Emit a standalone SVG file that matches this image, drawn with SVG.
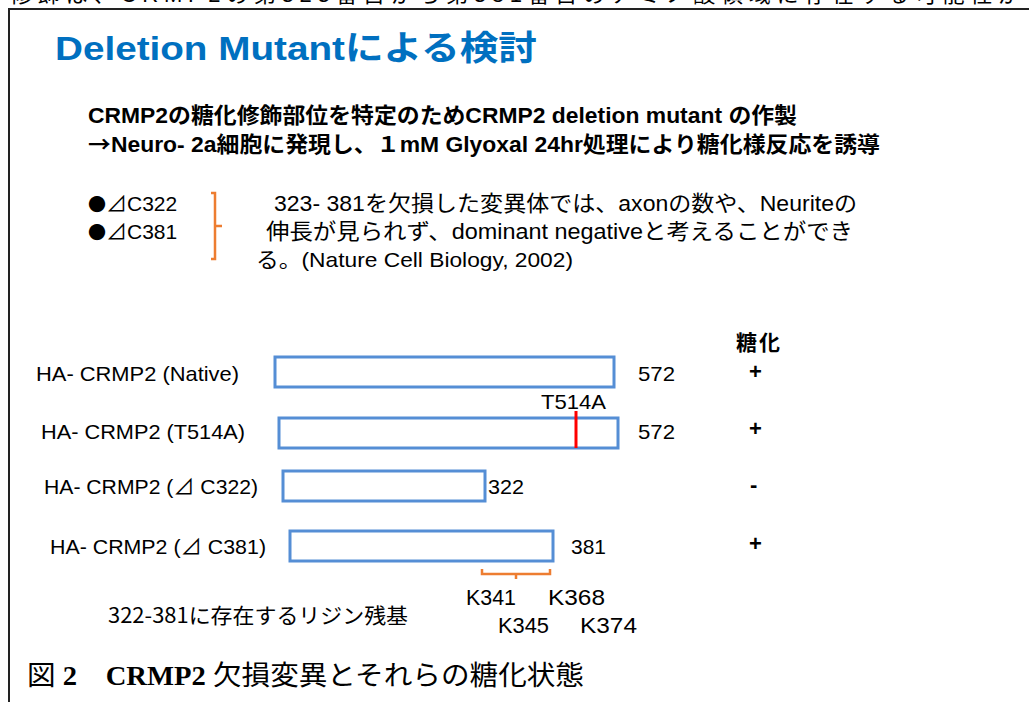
<svg xmlns="http://www.w3.org/2000/svg" width="1029" height="702" viewBox="0 0 1029 702">
<style>
.t{font-family:"Liberation Sans","Noto Sans CJK JP",sans-serif;fill:#000}
.b{font-weight:bold}
.j{font-family:"Noto Sans CJK JP",sans-serif}
.title{font-family:"Liberation Sans","Noto Sans CJK JP",sans-serif;font-weight:bold;fill:#0070C0;font-size:34px}
.cap{font-family:"Liberation Serif","Noto Sans CJK JP",serif;fill:#000;font-size:27px}
.box{fill:#fff;stroke:#558ED5;stroke-width:3}
.br{fill:none;stroke:#ED7D31;stroke-width:2.5}
.frame{fill:none;stroke:#222;stroke-width:2}
</style>
<rect width="1029" height="702" fill="#fff"/>
<text class="t" x="10" y="2" font-size="22" textLength="1010" lengthAdjust="spacing">修飾は、CRMP2の第323番目から第381番目のアミノ酸領域に存在する可能性が</text>
<path class="frame" d="M9,702 V9 H1029"/>
<text class="title" x="55" y="60" textLength="482" lengthAdjust="spacingAndGlyphs">Deletion Mutantによる検討</text>
<g id="intro">
<text class="t b" x="88" y="123" font-size="21.5" textLength="709" lengthAdjust="spacingAndGlyphs">CRMP2の糖化修飾部位を特定のためCRMP2  deletion mutant の作製</text>
<text class="t b" x="88" y="152" font-size="21.5" textLength="792" lengthAdjust="spacingAndGlyphs"><tspan class="j">→</tspan>Neuro- 2a細胞に発現し、１mM Glyoxal 24hr処理により糖化様反応を誘導</text>
</g>
<g id="bullets">
<text class="t" x="88" y="211" font-size="21"><tspan class="j" font-size="18">●</tspan><tspan class="j">⊿</tspan>C322</text>
<text class="t" x="88" y="239" font-size="21"><tspan class="j" font-size="18">●</tspan><tspan class="j">⊿</tspan>C381</text>
</g>
<g id="connectors">
<path class="br" d="M211,193 H215 V259 H211 M215,226 H222"/>
<path class="br" d="M482,569 V574 H550 V569 M516,574 V579"/>
</g>
<g id="note">
<text class="t" x="274" y="211" font-size="21.5" textLength="583" lengthAdjust="spacingAndGlyphs">323- 381を欠損した変異体では、axonの数や、Neuriteの</text>
<text class="t" x="266" y="239" font-size="21.5" textLength="587" lengthAdjust="spacingAndGlyphs">伸長が見られず、dominant negativeと考えることができ</text>
<text class="t" x="256" y="267" font-size="21" textLength="317" lengthAdjust="spacingAndGlyphs">る。(Nature Cell Biology, 2002)</text>
</g>
<text class="t b" x="736" y="350" font-size="21" textLength="44" lengthAdjust="spacing">糖化</text>
<g id="row-native">
<text class="t" x="36" y="381" font-size="21" textLength="203" lengthAdjust="spacingAndGlyphs">HA- CRMP2 (Native)</text>
<rect class="box" x="275" y="357" width="339" height="30"/>
<text class="t" x="638" y="381" font-size="21" textLength="37" lengthAdjust="spacingAndGlyphs">572</text>
<text class="t b" x="749" y="379" font-size="22">+</text>
</g>
<g id="row-t514a">
<text class="t" x="541" y="409" font-size="21" textLength="65" lengthAdjust="spacingAndGlyphs">T514A</text>
<text class="t" x="41" y="439" font-size="21" textLength="204" lengthAdjust="spacingAndGlyphs">HA- CRMP2 (T514A)</text>
<rect class="box" x="279" y="418" width="339" height="30"/>
<line x1="576" y1="411" x2="576" y2="448" stroke="#FF0000" stroke-width="3"/>
<text class="t" x="638" y="439" font-size="21" textLength="37" lengthAdjust="spacingAndGlyphs">572</text>
<text class="t b" x="749" y="436" font-size="22">+</text>
</g>
<g id="row-c322">
<text class="t" x="44" y="494" font-size="21" textLength="214" lengthAdjust="spacingAndGlyphs">HA- CRMP2 (⊿ C322)</text>
<rect class="box" x="283" y="471" width="202" height="30"/>
<text class="t" x="488" y="494" font-size="21" textLength="36" lengthAdjust="spacingAndGlyphs">322</text>
<text class="t b" x="750" y="492" font-size="22">-</text>
</g>
<g id="row-c381">
<text class="t" x="50" y="554" font-size="21" textLength="216" lengthAdjust="spacingAndGlyphs">HA- CRMP2 (⊿ C381)</text>
<rect class="box" x="290" y="531" width="263" height="30"/>
<text class="t" x="571" y="554" font-size="21" textLength="35" lengthAdjust="spacingAndGlyphs">381</text>
<text class="t b" x="749" y="551" font-size="22">+</text>
</g>
<g id="lysines">
<text class="t" x="466" y="605" font-size="22" textLength="50" lengthAdjust="spacingAndGlyphs">K341</text>
<text class="t" x="548" y="605" font-size="22" textLength="57" lengthAdjust="spacingAndGlyphs">K368</text>
<text class="t" x="498" y="633" font-size="22" textLength="51" lengthAdjust="spacingAndGlyphs">K345</text>
<text class="t" x="580" y="633" font-size="22" textLength="57" lengthAdjust="spacingAndGlyphs">K374</text>
<text x="108" y="623" font-size="21" font-family="'Noto Sans CJK JP',sans-serif" textLength="300" lengthAdjust="spacingAndGlyphs">322-381に存在するリジン残基</text>
</g>
<text class="cap" x="27" y="685" textLength="557" lengthAdjust="spacingAndGlyphs">図 <tspan font-weight="bold">2</tspan>　<tspan font-weight="bold">CRMP2</tspan> 欠損変異とそれらの糖化状態</text>
</svg>
